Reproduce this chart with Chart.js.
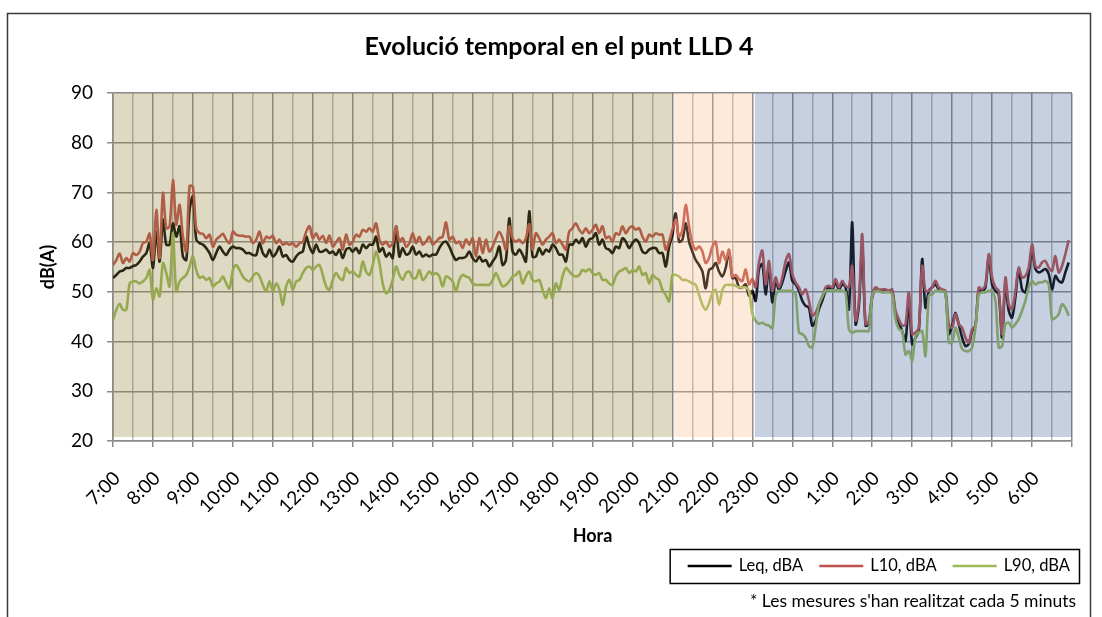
<!DOCTYPE html>
<html>
<head>
<meta charset="utf-8">
<title>Evolució temporal en el punt LLD 4</title>
<script src="https://cdn.jsdelivr.net/npm/chart.js@4.4.0/dist/chart.umd.min.js"></script>
<style>
  html, body { margin: 0; padding: 0; background: #fff; }
  #wrap { width: 1102px; height: 617px; }
</style>
</head>
<body>
<div id="wrap"><canvas id="chart" width="1102" height="617"></canvas></div>
<script>
// LLD 4 - one reading every 5 minutes, from 7:00 to 6:55 next day (288 steps)

const hourLabels = ['7:00', '8:00', '9:00', '10:00', '11:00', '12:00', '13:00', '14:00',
  '15:00', '16:00', '17:00', '18:00', '19:00', '20:00', '21:00', '22:00', '23:00',
  '0:00', '1:00', '2:00', '3:00', '4:00', '5:00', '6:00'];

const seriesNames = ['Leq, dBA', 'L10, dBA', 'L90, dBA'];

// Leq, dBA
const leq = [
  52.8, 53.4, 54.1, 54.3, 54.8, 54.8, 55.2, 55.4, 56.1, 57.1, 57.8, 59.8,
  54.8, 62.1, 56.1, 64.5, 59.5, 59.5, 63.8, 61.1, 63.2, 57.1, 56.4, 66.5,
  69.2, 60.5, 59.8, 59.5, 58.8, 57.8, 56.4, 57.8, 59.1, 58.1, 57.4, 58.5,
  59.1, 58.8, 58.8, 58.5, 57.8, 57.8, 57.4, 57.4, 59.8, 57.8, 57.1, 58.5,
  57.1, 57.8, 59.1, 57.1, 57.4, 56.4, 56.1, 57.1, 57.8, 58.1, 61.1, 59.1,
  57.8, 59.5, 58.1, 58.1, 58.5, 57.8, 58.1, 57.4, 58.5, 56.8, 58.5, 58.8,
  58.1, 58.8, 57.8, 59.5, 58.8, 59.5, 59.5, 61.1, 58.1, 58.8, 57.1, 57.8,
  56.8, 63.2, 57.1, 58.8, 57.5, 57.8, 59.1, 57.5, 58.1, 57.1, 57.5, 57.1,
  57.5, 57.5, 58.8, 59.8, 60.1, 59.1, 57.5, 56.4, 56.8, 56.8, 57.1, 58.1,
  56.8, 56.1, 57.1, 56.1, 56.4, 55.1, 56.1, 57.1, 59.1, 55.4, 56.4, 64.8,
  58.1, 57.5, 58.5, 57.5, 56.1, 66.2, 57.1, 57.1, 58.8, 57.5, 58.5, 58.1,
  59.5, 58.8, 57.5, 57.5, 56.1, 59.5, 59.5, 60.5, 59.8, 60.8, 59.1, 60.5,
  60.8, 61.8, 59.5, 60.5, 58.8, 58.5, 57.8, 59.1, 58.8, 60.8, 60.1, 58.8,
  59.8, 60.5, 59.8, 58.1, 57.8, 58.5, 58.8, 58.8, 57.8, 57.8, 55.1, 59.1,
  61.5, 65.8, 60.1, 60.5, 63.8, 60.1, 58.1, 56.4, 55.4, 54.1, 50.7, 54.4,
  54.8, 55.8, 54.1, 53.1, 54.8, 58.1, 52.8, 52.8, 50.9, 50.9, 51.5, 49.2,
  50.2, 48.2, 54.6, 55.6, 49.5, 55.2, 47.9, 52.2, 50.4, 51.9, 54.2, 55.9,
  52.2, 51.5, 50.2, 48.2, 47.2, 46.8, 43.2, 44.2, 46.5, 48.2, 50.2, 50.9,
  50.5, 51.9, 50.5, 51.5, 50.9, 46.5, 64.0, 43.5, 47.2, 59.3, 43.2, 43.5,
  48.9, 50.5, 50.3, 50.3, 50.2, 50.2, 50.2, 45.5, 43.8, 42.1, 40.1, 48.2,
  39.5, 40.8, 42.1, 56.6, 46.8, 50.2, 50.9, 51.5, 50.5, 50.2, 49.9, 41.5,
  43.2, 45.8, 43.5, 40.8, 39.1, 39.5, 42.1, 43.2, 50.5, 50.2, 50.9, 57.2,
  51.5, 50.2, 49.5, 40.8, 51.5, 46.2, 44.8, 48.9, 54.6, 50.5, 49.9, 53.6,
  58.3, 54.6, 53.9, 54.2, 54.6, 53.6, 50.5, 53.2, 52.2, 51.9, 53.9, 55.9
];

// L10, dBA
const l10 = [
  55.4, 56.4, 57.7, 55.8, 56.8, 56.1, 57.8, 57.4, 58.1, 59.8, 60.1, 61.7,
  56.4, 66.5, 56.8, 69.9, 62.8, 63.2, 72.5, 63.5, 67.5, 61.1, 58.1, 71.3,
  71.1, 62.8, 61.8, 61.7, 60.8, 61.5, 59.1, 60.5, 61.1, 61.7, 60.5, 59.8,
  62.1, 61.5, 61.3, 61.3, 61.1, 61.1, 59.8, 60.5, 62.1, 59.8, 61.1, 60.8,
  61.3, 59.8, 60.5, 59.5, 59.8, 59.5, 59.8, 59.1, 59.8, 60.0, 62.1, 63.2,
  60.8, 61.8, 60.5, 61.3, 59.8, 61.3, 59.1, 60.0, 60.8, 58.5, 61.5, 59.5,
  60.1, 61.5, 61.1, 62.5, 62.1, 62.8, 62.1, 63.8, 60.5, 59.5, 60.1, 59.1,
  59.8, 63.2, 60.1, 60.8, 59.1, 59.8, 61.8, 59.8, 61.1, 59.5, 60.1, 61.1,
  59.5, 60.1, 60.8, 61.1, 64.0, 60.5, 61.1, 59.8, 60.1, 58.8, 60.5, 59.5,
  60.8, 57.1, 60.8, 57.8, 60.5, 58.1, 59.1, 60.8, 62.1, 60.8, 58.5, 63.2,
  60.8, 60.1, 60.5, 59.8, 60.8, 63.6, 58.5, 61.8, 60.8, 59.5, 60.5, 61.1,
  61.8, 59.8, 60.5, 59.5, 58.5, 62.1, 62.8, 63.8, 62.5, 61.8, 62.8, 61.8,
  62.5, 63.5, 61.8, 63.2, 60.8, 61.1, 60.1, 61.8, 61.5, 63.2, 61.8, 62.8,
  63.2, 62.5, 62.8, 61.1, 60.1, 61.5, 61.1, 61.8, 61.5, 61.5, 58.5, 60.1,
  62.5, 64.5, 61.1, 62.5, 67.5, 63.2, 59.8, 58.5, 59.1, 58.1, 55.8, 56.8,
  59.1, 60.1, 55.8, 58.1, 56.4, 58.5, 53.1, 53.4, 52.6, 52.2, 54.5, 51.5,
  52.6, 50.9, 55.9, 58.3, 51.5, 56.2, 50.2, 52.9, 50.9, 52.9, 56.2, 57.6,
  53.6, 51.9, 50.9, 49.5, 50.5, 48.2, 45.2, 45.8, 47.5, 48.9, 50.9, 51.2,
  50.9, 52.6, 50.9, 52.2, 51.2, 50.9, 55.2, 44.2, 48.2, 61.6, 43.5, 44.2,
  49.5, 50.9, 50.5, 50.5, 50.5, 50.2, 50.5, 46.2, 44.5, 43.2, 43.5, 49.9,
  41.5, 41.8, 42.8, 55.2, 50.2, 50.2, 50.9, 52.2, 50.9, 50.5, 50.2, 43.5,
  42.8, 45.5, 43.5, 42.8, 40.8, 39.8, 42.5, 43.2, 50.9, 50.5, 51.5, 57.6,
  52.9, 50.9, 50.2, 41.5, 52.9, 47.5, 46.5, 50.2, 54.9, 52.9, 53.2, 54.9,
  59.6, 55.2, 54.9, 55.9, 56.2, 54.9, 54.2, 57.2, 53.9, 55.2, 57.6, 60.4
];

// L90, dBA
const l90 = [
  44.4, 46.4, 47.6, 46.4, 46.4, 51.7, 52.1, 52.1, 51.7, 52.1, 52.8, 54.4,
  48.4, 50.7, 49.1, 55.8, 53.8, 51.1, 61.8, 50.1, 52.1, 52.8, 53.4, 55.1,
  57.2, 54.4, 52.8, 53.1, 52.4, 52.8, 51.1, 51.7, 52.1, 53.1, 51.7, 50.7,
  54.4, 55.4, 54.4, 53.1, 52.4, 52.1, 53.1, 53.8, 53.1, 51.4, 50.1, 52.1,
  50.1, 51.7, 50.4, 47.4, 51.1, 52.4, 50.4, 52.1, 52.4, 53.8, 54.8, 55.1,
  54.4, 55.1, 55.4, 53.4, 51.1, 50.4, 52.4, 53.8, 52.8, 52.4, 54.8, 53.8,
  54.1, 53.4, 53.1, 56.1, 54.1, 53.4, 55.4, 58.1, 55.8, 51.7, 49.7, 50.4,
  52.4, 55.1, 53.4, 52.4, 53.8, 54.1, 52.8, 52.8, 54.4, 52.4, 53.1, 54.1,
  53.4, 53.8, 53.1, 51.1, 53.1, 52.8, 52.1, 50.1, 52.4, 53.4, 53.1, 52.8,
  51.7, 51.4, 51.4, 51.4, 51.4, 51.4, 52.4, 53.8, 52.4, 51.1, 51.4, 52.1,
  53.1, 53.4, 54.1, 51.7, 53.1, 54.1, 52.4, 52.1, 52.4, 50.4, 48.7, 50.7,
  48.7, 51.7, 50.4, 53.1, 54.8, 54.1, 53.4, 53.1, 53.4, 54.4, 54.1, 54.6,
  53.8, 53.4, 53.8, 52.4, 52.4, 51.7, 51.4, 53.1, 54.1, 54.4, 54.8, 53.8,
  54.4, 54.1, 55.1, 53.4, 53.8, 51.7, 53.4, 52.8, 52.4, 50.4, 49.4, 48.1,
  53.4, 53.4, 53.1, 52.4, 52.4, 52.1, 51.7, 51.4, 49.4, 47.4, 46.4, 47.7,
  49.7, 50.4, 47.4, 50.4, 51.4, 51.4, 51.4, 51.2, 50.9, 50.9, 50.9, 50.2,
  45.5, 44.2, 43.6, 43.8, 43.4, 43.2, 42.7, 49.2, 50.2, 50.2, 50.2, 50.2,
  50.2, 49.5, 41.8, 41.5, 40.8, 39.1, 38.8, 42.8, 47.5, 49.2, 50.2, 50.3,
  50.3, 50.3, 50.3, 50.2, 49.9, 42.5, 41.8, 42.1, 42.1, 42.1, 42.1, 42.1,
  49.2, 50.2, 50.1, 49.9, 49.9, 49.9, 49.5, 44.5, 42.5, 42.1, 37.4, 38.1,
  36.1, 41.1, 41.8, 42.1, 37.1, 49.2, 49.5, 50.2, 50.2, 50.1, 49.9, 39.8,
  39.8, 42.8, 40.8, 38.5, 38.1, 38.1, 38.8, 42.8, 49.5, 49.9, 49.9, 50.2,
  50.2, 48.2, 38.8, 39.1, 43.5, 43.8, 42.8, 43.5, 44.5, 46.2, 48.2, 50.9,
  52.2, 51.5, 51.9, 51.9, 52.2, 51.5, 44.5, 44.8, 45.5, 47.5, 46.8, 45.2
];

// day / evening / night periods, in 5-minute steps from 7:00
const periodEdges = [0, 168, 192, 288];

const STEPS = 288;
const font = 'Lato, Carlito, "Open Sans", sans-serif';
Chart.defaults.font.family = font;
Chart.defaults.color = '#000';

function points(values) {
    return values.map((v, i) => ({ x: i, y: v }));
}

// shaded periods (drawn over the lines, semi-transparent like the original)
const periodBands = {
    id: 'periodBands',
    afterDatasetsDraw(chart) {
        const { ctx, chartArea } = chart;
        const x = chart.scales.x;
        const colors = ['rgba(142,128,55,0.3)', 'rgba(248,185,132,0.3)', 'rgba(65,98,151,0.3)'];
        const gaps = [0, 2, 2.5];
        ctx.save();
        for (let p = 0; p < 3; p++) {
            const x0 = x.getPixelForValue(periodEdges[p]) + gaps[p];
            const x1 = x.getPixelForValue(periodEdges[p + 1]);
            ctx.fillStyle = colors[p];
            ctx.fillRect(x0, chartArea.top, x1 - x0, chartArea.bottom - chartArea.top - 4);
        }
        ctx.restore();
    }
};

// title, frame, legend and footnote
const decorations = {
    id: 'decorations',
    afterDraw(chart) {
        const ctx = chart.ctx;
        ctx.save();

        // outer frame
        ctx.strokeStyle = '#3a3a3a';
        ctx.lineWidth = 1.5;
        ctx.strokeRect(7.5, 13.5, 1083, 640);

        // title
        ctx.fillStyle = '#000';
        ctx.font = 'bold 25px ' + font;
        ctx.textAlign = 'center';
        ctx.textBaseline = 'middle';
        ctx.fillText('Evolució temporal en el punt LLD 4', 559, 47);

        // legend
        const colors = ['#000000', '#C0504D', '#9BBB59'];
        ctx.font = '16.5px ' + font;
        const widths = seriesNames.map(t => ctx.measureText(t).width);
        const total = 18 + widths.reduce((s, w) => s + w + 51, 0) + 32 + 9;
        const right = 1079, top = 549, h = 34;
        const left = right - total;
        ctx.fillStyle = '#fff';
        ctx.fillRect(left, top, total, h);
        ctx.strokeStyle = '#000';
        ctx.lineWidth = 1.5;
        ctx.strokeRect(left + 0.5, top + 0.5, total, h);
        let cx = left + 18;
        const cy = top + h / 2;
        ctx.textAlign = 'left';
        seriesNames.forEach((name, i) => {
            ctx.strokeStyle = colors[i];
            ctx.lineWidth = 2.5;
            ctx.beginPath();
            ctx.moveTo(cx, cy);
            ctx.lineTo(cx + 44, cy);
            ctx.stroke();
            ctx.fillStyle = '#000';
            ctx.fillText(name, cx + 51, cy);
            cx += 51 + widths[i] + 16;
        });

        // footnote
        ctx.font = '17.5px ' + font;
        ctx.textAlign = 'right';
        ctx.fillText("* Les mesures s'han realitzat cada 5 minuts", 1076, 601);
        ctx.restore();
    }
};

const ctx = document.getElementById('chart').getContext('2d');

const chart = new Chart(ctx, {
    type: 'line',
    data: {
        datasets: [
            { label: seriesNames[0], data: points(leq), borderColor: '#000000', order: 3 },
            { label: seriesNames[1], data: points(l10), borderColor: '#C0504D', order: 2 },
            { label: seriesNames[2], data: points(l90), borderColor: '#9BBB59', order: 1 }
        ]
    },
    options: {
        responsive: false,
        animation: false,
        layout: { padding: { top: 93, left: 0, right: 30, bottom: 70 } },
        elements: {
            line: { borderWidth: 2.6, tension: 0.3, fill: false },
            point: { radius: 0 }
        },
        plugins: {
            legend: { display: false },
            title: { display: false },
            tooltip: { enabled: false }
        },
        scales: {
            x: {
                type: 'linear',
                min: 0,
                max: STEPS,
                afterFit: (scale) => {
                    scale.height = 106;
                    scale.paddingLeft = 0;
                    scale.paddingRight = 0;
                },
                ticks: {
                    stepSize: 6,
                    autoSkip: false,
                    maxTicksLimit: 100,
                    minRotation: 45,
                    maxRotation: 45,
                    padding: 20,
                    labelOffset: 4,
                    font: { size: 19 },
                    color: '#000',
                    callback: (value) => (value % 12 === 0 && value < STEPS) ? hourLabels[value / 12] : ''
                },
                grid: {
                    color: (c) => (c.tick && c.tick.value % 12 === 0) ? '#8a8a8a' : '#b8b8b8',
                    lineWidth: 1.5,
                    tickLength: 6,
                    tickColor: (c) => (c.tick && c.tick.value % 12 === 0) ? '#8a8a8a' : 'rgba(0,0,0,0)'
                },
                border: { color: '#8a8a8a', width: 1.5 },
                title: {
                    display: true,
                    text: 'Hora',
                    font: { size: 18, weight: 'bold' },
                    color: '#000',
                    padding: { top: 0, bottom: 0 }
                }
            },
            y: {
                min: 20,
                max: 90,
                afterFit: (scale) => { scale.width = 113; },
                ticks: {
                    stepSize: 10,
                    padding: 14,
                    font: { size: 19 },
                    color: '#000'
                },
                grid: {
                    color: '#8a8a8a',
                    lineWidth: 1.5,
                    tickLength: 6,
                    tickColor: '#8a8a8a'
                },
                border: { color: '#8a8a8a', width: 1.5 },
                title: {
                    display: true,
                    text: 'dB(A)',
                    font: { size: 18, weight: 'bold' },
                    color: '#000',
                    padding: { top: 37, bottom: 0 }
                }
            }
        }
    },
    plugins: [periodBands, decorations]
});
</script>
</body>
</html>
